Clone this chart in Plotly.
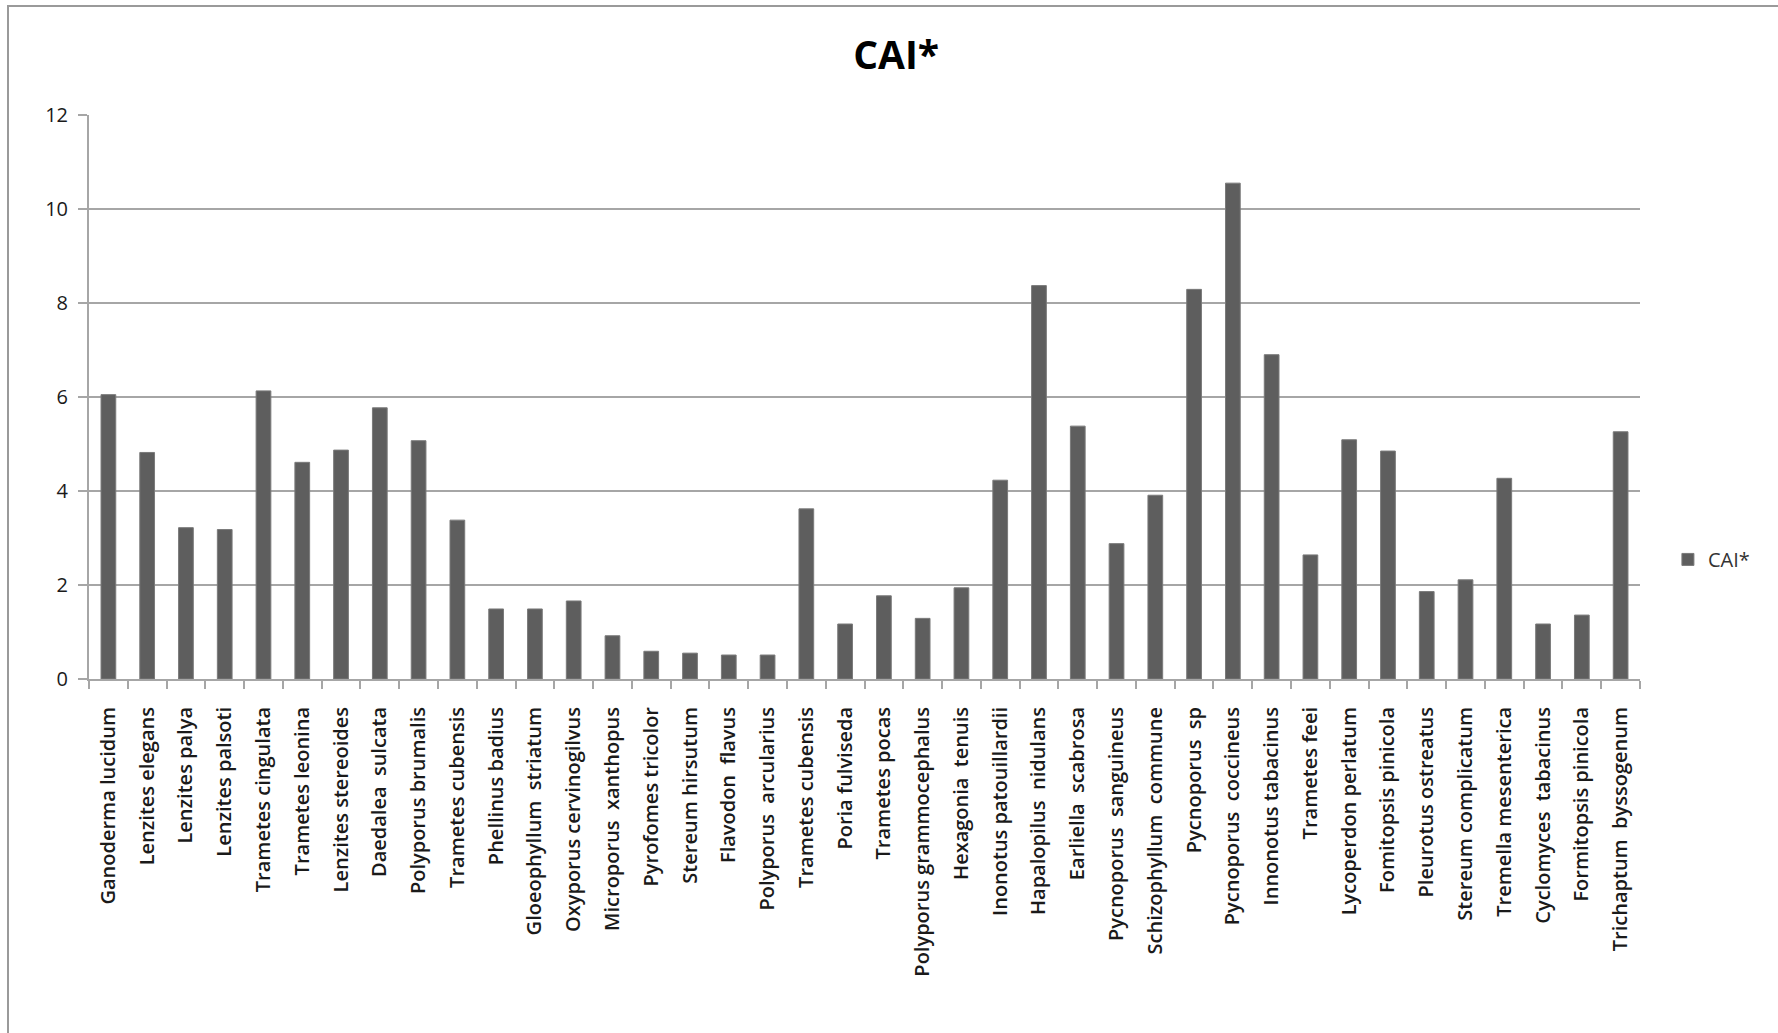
import plotly.graph_objects as go

# Species (x categories) and their CAI* values
species = [
    "Ganoderma lucidum", "Lenzites elegans", "Lenzites palya", "Lenzites palsoti",
    "Trametes cingulata", "Trametes leonina", "Lenzites stereoides", "Daedalea  sulcata",
    "Polyporus brumalis", "Trametes cubensis", "Phellinus badius", "Gloeophyllum  striatum",
    "Oxyporus cervinogilvus", "Microporus  xanthopus", "Pyrofomes tricolor", "Stereum hirsutum",
    "Flavodon  flavus", "Polyporus  arcularius", "Trametes cubensis", "Poria fulviseda",
    "Trametes pocas", "Polyporus grammocephalus", "Hexagonia  tenuis", "Inonotus patouillardii",
    "Hapalopilus  nidulans", "Earliella  scabrosa", "Pycnoporus  sanguineus", "Schizophyllum  commune",
    "Pycnoporus  sp", "Pycnoporus  coccineus", "Innonotus tabacinus", "Trametes feei",
    "Lycoperdon perlatum", "Fomitopsis pinicola", "Pleurotus ostreatus", "Stereum complicatum",
    "Tremella mesenterica", "Cyclomyces  tabacinus", "Formitopsis pinicola", "Trichaptum  byssogenum",
]
cai_values = [
    6.05, 4.82, 3.22, 3.18, 6.13, 4.61, 4.87, 5.77, 5.07, 3.38,
    1.49, 1.49, 1.66, 0.92, 0.59, 0.55, 0.51, 0.51, 3.62, 1.17,
    1.77, 1.29, 1.94, 4.23, 8.37, 5.38, 2.88, 3.91, 8.29, 10.55,
    6.90, 2.64, 5.09, 4.85, 1.86, 2.11, 4.27, 1.17, 1.36, 5.26,
]
y_ticks = [0, 2, 4, 6, 8, 10, 12]
series_name = "CAI*"

positions = list(range(len(species)))
boundaries = [p - 0.5 for p in positions] + [positions[-1] + 0.5]

FONT = "Open Sans"
GRID = "#a6a6a6"

fig = go.Figure()
fig.add_trace(go.Bar(
    x=positions,
    y=cai_values,
    name=series_name,
    width=0.38,
    marker=dict(color="#5e5e5e", line=dict(color="#7a7a7a", width=1)),
    showlegend=True,
))

fig.update_layout(
    width=1778,
    height=1033,
    margin=dict(l=89, r=138, t=115, b=354),
    paper_bgcolor="white",
    plot_bgcolor="white",
    font=dict(family=FONT, color="#1a1a1a"),
    title=dict(
        text="<b>CAI*</b>",
        font=dict(family=FONT, size=39, color="black"),
        x=0.504, xref="container", xanchor="center",
        y=1 - 55 / 1033, yref="container", yanchor="middle",
    ),
    showlegend=True,
    legend=dict(
        x=1.018, xanchor="left",
        y=0.212, yanchor="middle",
        font=dict(family=FONT, size=20, color="#333333"),
        bgcolor="rgba(0,0,0,0)",
        itemwidth=30,
    ),
    bargap=0.6,
)

fig.update_xaxes(
    range=[-0.5, len(species) - 0.5],
    tickmode="array",
    tickvals=positions,
    ticktext=species,
    tickangle=-90,
    tickfont=dict(family=FONT, size=20, weight=600, color="#1a1a1a"),
    ticklabelstandoff=18,
    ticks="",
    showgrid=False,
    zeroline=False,
    showline=True,
    linecolor=GRID,
    linewidth=2,
    minor=dict(
        tickmode="array",
        tickvals=boundaries,
        ticks="outside",
        ticklen=8,
        tickwidth=2,
        tickcolor=GRID,
        showgrid=False,
    ),
)

fig.update_yaxes(
    range=[0, 12],
    tickmode="array",
    tickvals=y_ticks,
    ticktext=[str(v) for v in y_ticks],
    tickfont=dict(family=FONT, size=20, color="#1a1a1a"),
    ticklabelstandoff=6,
    ticks="outside",
    ticklen=9,
    tickwidth=2,
    tickcolor=GRID,
    showgrid=True,
    gridcolor=GRID,
    gridwidth=2,
    zeroline=False,
    showline=True,
    linecolor=GRID,
    linewidth=2,
)

# Chart-area frame
fig.add_shape(
    type="rect", xref="paper", yref="paper",
    x0=-81 / 1551, x1=1.2, y0=-0.8, y1=1 + 109 / 564,
    line=dict(color="#9a9a9a", width=2),
    fillcolor="rgba(0,0,0,0)", layer="below",
)

fig.write_html("out.html")
